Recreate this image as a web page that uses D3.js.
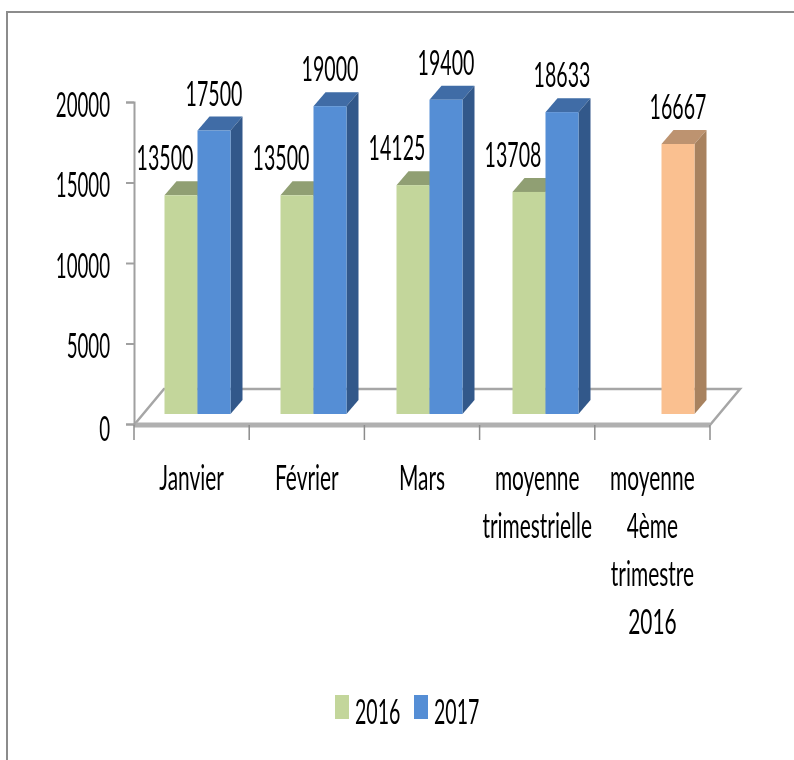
<!DOCTYPE html>
<html>
<head>
<meta charset="utf-8">
<script src="https://cdn.jsdelivr.net/npm/d3@7"></script>
<style>
  html, body { margin: 0; padding: 0; background: #fff; }
  svg { display: block; }
  text { font-family: Lato, "Open Sans", sans-serif; fill: #000; }
</style>
</head>
<body>
<div id="chart"></div>
<script>
// Data
const categories = [["Janvier"], ["Février"], ["Mars"], ["moyenne", "trimestrielle"], ["moyenne", "4ème", "trimestre", "2016"]];
const seriesNames = ["2016", "2017"];
const values2016 = [13500, 13500, 14125, 13708, null];
const values2017 = [17500, 19000, 19400, 18633, 16667];
const yTicks = [0, 5000, 10000, 15000, 20000];

const width = 794, height = 760;
const fontSize = 34;
const squeezeNum = 0.576, squeezeAxis = 0.55, squeezeCat = 0.615;

const svg = d3.select("#chart").append("svg")
    .attr("width", width)
    .attr("height", height);

// Soft edges, the reference is a blown up bitmap
const defs = svg.append("defs");
defs.append("filter").attr("id", "soft")
    .append("feGaussianBlur").attr("stdDeviation", 0.6);
defs.append("filter").attr("id", "softText")
    .append("feGaussianBlur").attr("stdDeviation", 0.35);

// Frame, only top and left are in the picture
svg.append("path")
    .attr("d", d3.line()([[7, height], [7, 12], [width, 12]]))
    .attr("fill", "none")
    .attr("stroke", "#8c8c8c")
    .attr("stroke-width", 2);

// Scales
const x = d3.scaleBand().domain(d3.range(categories.length)).range([134, 710]);
const y = d3.scaleLinear().domain([0, 20000]).range([424, 102]);
// bars stand further back on the floor, so they get their own plane
const xBar = d3.scaleBand().domain(d3.range(categories.length)).range([164.5, 744.5]);
const yBar = d3.scaleLinear().domain([0, 20000]).range([414, 90]);
const slot = d3.scaleBand().domain(seriesNames).range([0, 66]);

// 3D offsets
const floorDepth = {dx: 30, dy: -36};
const barDepth = {dx: 12, dy: -14};

// Floor
const x0 = x.range()[0], x1 = x.range()[1], y0 = y(0) + 1;
const floor = svg.append("g").attr("filter", "url(#soft)");
floor.append("path")
    .attr("d", d3.line()([[x0, y0], [x0 + floorDepth.dx, y0 + floorDepth.dy], [x1 + floorDepth.dx, y0 + floorDepth.dy], [x1, y0]]))
    .attr("fill", "none")
    .attr("stroke", "#a6a6a6")
    .attr("stroke-width", 2.5);
floor.append("line")
    .attr("x1", x0).attr("x2", x1)
    .attr("y1", y0).attr("y2", y0)
    .attr("stroke", "#b0b0b0")
    .attr("stroke-width", 5);

// Axes
const yAxis = d3.axisLeft(y).tickValues(yTicks).tickSize(8).tickPadding(16).tickFormat(d3.format("d"));
const xAxis = d3.axisBottom(x).tickSize(0).tickFormat("");

const yG = svg.append("g")
    .attr("transform", "translate(" + x0 + ",0)")
    .call(yAxis);
yG.selectAll("path, line").attr("stroke", "#a0a0a0").attr("stroke-width", 2);
yG.selectAll("text")
    .attr("font-size", fontSize)
    .attr("x", 0).attr("dy", null)
    .attr("text-anchor", "end")
    .attr("dominant-baseline", "central")
    .attr("filter", "url(#softText)")
    .attr("transform", d => "translate(-24," + (d === 0 ? 3 : 1) + ") scale(" + squeezeAxis + ",1)");

const xG = svg.append("g")
    .attr("transform", "translate(0," + y0 + ")")
    .call(xAxis);
xG.select(".domain").remove();
xG.selectAll(".tick").remove();

// x ticks sit between categories
xG.selectAll(".sep")
    .data(d3.range(categories.length + 1))
    .join("line")
    .attr("x1", d => x0 + d * x.bandwidth())
    .attr("x2", d => x0 + d * x.bandwidth())
    .attr("y1", 0)
    .attr("y2", 15)
    .attr("stroke", "#8c8c8c")
    .attr("stroke-width", 1.5);

// Category labels
categories.forEach((lines, i) => {
    lines.forEach((t, j) => {
        svg.append("text")
            .attr("font-size", fontSize)
            .attr("text-anchor", "middle")
            .attr("filter", "url(#softText)")
            .attr("transform", "translate(" + (x(i) + x.bandwidth() / 2) + "," + (490 + j * 48) + ") scale(" + squeezeCat + ",1)")
            .text(t);
    });
});

// Bars
const barColors = {
    "2016": {front: "#c3d69b", top: "#909f73", side: "#7f8d64"},
    "2017": {front: "#558ed5", top: "#3f6ca6", side: "#33598a"}
};
const orange = {front: "#fac090", top: "#bd9370", side: "#a8825f"};

const rows = [];
seriesNames.forEach((name, s) => {
    const vals = s === 0 ? values2016 : values2017;
    vals.forEach((v, i) => {
        if (v !== null) rows.push({name, i, v, colors: values2016[i] === null ? orange : barColors[name]});
    });
});

const bars = svg.append("g").attr("filter", "url(#soft)");
const bx = d => xBar(d.i) + slot(d.name);
const by = d => yBar(d.v);
const base = yBar(0);
const bw = slot.bandwidth();

// the 2017 bars are drawn last so their faces cover the green top
const bar = bars.selectAll("g.bar").data(rows).join("g").attr("class", "bar");
bar.append("path")
    .attr("fill", d => d.colors.top)
    .attr("d", d => d3.line()([[bx(d), by(d)], [bx(d) + bw, by(d)], [bx(d) + bw + barDepth.dx, by(d) + barDepth.dy], [bx(d) + barDepth.dx, by(d) + barDepth.dy]]));
bar.append("path")
    .attr("fill", d => d.colors.side)
    .attr("d", d => d3.line()([[bx(d) + bw, by(d)], [bx(d) + bw + barDepth.dx, by(d) + barDepth.dy], [bx(d) + bw + barDepth.dx, base + barDepth.dy], [bx(d) + bw, base]]));
bar.append("rect")
    .attr("fill", d => d.colors.front)
    .attr("x", bx)
    .attr("y", by)
    .attr("width", bw)
    .attr("height", d => base - by(d));

// Value labels
svg.selectAll("text.value")
    .data(rows)
    .join("text")
    .attr("class", "value")
    .attr("font-size", fontSize)
    .attr("text-anchor", "middle")
    .attr("filter", "url(#softText)")
    .attr("transform", d => {
        const cx = bx(d) + bw / 2 + (d.name === "2016" ? -16 : 0);
        return "translate(" + cx + "," + (by(d) + barDepth.dy - 11) + ") scale(" + squeezeNum + ",1)";
    })
    .text(d => d.v);

// Legend
const legendX = {"2016": 335, "2017": 414};
const legend = svg.selectAll(".legend")
    .data(seriesNames)
    .join("g")
    .attr("class", "legend");
legend.append("rect")
    .attr("x", d => legendX[d])
    .attr("y", 695)
    .attr("width", 14)
    .attr("height", 24)
    .attr("fill", d => barColors[d].front);
legend.append("text")
    .attr("font-size", fontSize)
    .attr("filter", "url(#softText)")
    .attr("transform", d => "translate(" + (legendX[d] + 20) + ",724) scale(" + squeezeNum + ",1)")
    .text(d => d);
</script>
</body>
</html>
